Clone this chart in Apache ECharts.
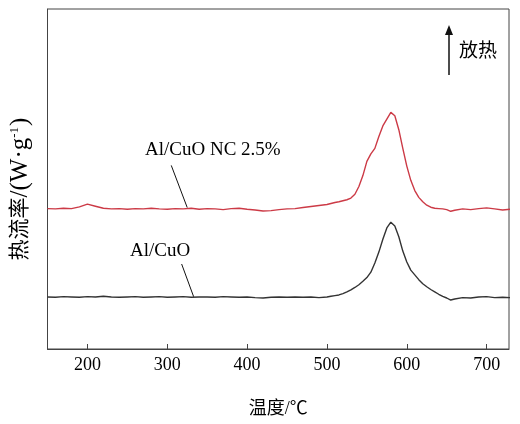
<!DOCTYPE html>
<html>
<head>
<meta charset="utf-8">
<script src="https://cdn.jsdelivr.net/npm/echarts@6/dist/echarts.min.js"></script>
<style>
    html, body { margin: 0; padding: 0; background: #fff; }
    #chart { width: 520px; height: 424px; }
</style>
</head>
<body>
<div id="chart"></div>
<script>
// temperature (°C) sample points
var temps = [150, 160, 170, 180, 190, 200, 210, 220, 230, 240, 250, 260, 270, 280, 290, 300,
    310, 320, 330, 340, 350, 360, 370, 380, 390, 400, 410, 420, 430, 440, 450, 460, 470, 480, 490,
    500, 505, 510, 515, 520, 525, 530, 535, 540, 545, 550, 555, 560, 565, 570, 575, 580, 585,
    590, 595, 600, 605, 610, 615, 620, 625, 630, 635, 640, 645, 650, 655, 660,
    670, 680, 690, 700, 710, 720, 730];

// heat flow, arbitrary units (curves are offset, no y scale shown)
var nc25 = [41.3, 41.2, 41.4, 41.3, 41.8, 42.6, 42.0, 41.4, 41.2, 41.3, 41.1, 41.3, 41.2, 41.4, 41.2, 41.1,
    41.3, 41.2, 41.4, 41.1, 41.3, 41.2, 41.0, 41.3, 41.4, 41.1, 40.9, 40.6, 40.7, 41.0, 41.2, 41.3, 41.6, 41.9, 42.2,
    42.5, 42.8, 43.1, 43.3, 43.6, 43.9, 44.4, 45.5, 47.8, 51.0, 55.2, 57.4, 59.0, 62.5, 65.6, 67.6, 69.6, 68.6,
    64.5, 59.0, 53.8, 49.6, 46.6, 44.6, 43.3, 42.3, 41.7, 41.4, 41.3, 41.2, 41.0, 40.5, 40.8,
    41.2, 41.0, 41.3, 41.5, 41.2, 40.9, 41.1];

var pure = [15.3, 15.2, 15.4, 15.3, 15.2, 15.4, 15.3, 15.5, 15.3, 15.2, 15.3, 15.4, 15.2, 15.3, 15.4, 15.2,
    15.3, 15.4, 15.2, 15.3, 15.3, 15.2, 15.4, 15.3, 15.2, 15.3, 15.1, 15.0, 15.2, 15.3, 15.2, 15.3, 15.2, 15.3, 15.1,
    15.3, 15.5, 15.7, 15.9, 16.3, 16.8, 17.4, 18.1, 18.9, 19.9, 21.0, 22.6, 25.3, 28.5, 32.3, 35.6, 37.3, 36.2,
    33.0, 28.8, 25.6, 23.2, 21.8, 20.4, 19.2, 18.3, 17.5, 16.8, 16.1, 15.5, 15.0, 14.4, 14.7,
    15.1, 15.0, 15.3, 15.4, 15.1, 15.2, 15.1];

var xTicks = [200, 300, 400, 500, 600, 700];

function pairs(ys) {
    return temps.map(function (t, i) { return [t, ys[i]]; });
}

var serif = "'Liberation Serif', 'Noto Sans CJK SC', serif";
var chart = echarts.init(document.getElementById('chart'));
chart.setOption({
    animation: false,
    grid: {
        left: 47,
        right: 11,
        top: 9,
        bottom: 75,
        show: true,
        borderColor: '#444',
        borderWidth: 1
    },
    xAxis: {
        type: 'value',
        min: 150,
        max: 728,
        name: '温度/℃',
        nameLocation: 'middle',
        nameGap: 51,
        nameTextStyle: { fontSize: 18, fontFamily: serif, color: '#000' },
        axisLine: { lineStyle: { color: '#444' } },
        axisTick: { inside: true, length: 5, customValues: xTicks, lineStyle: { color: '#444' } },
        axisLabel: { customValues: xTicks, fontSize: 18, fontFamily: serif, color: '#000', margin: 7 },
        splitLine: { show: false }
    },
    yAxis: {
        type: 'value',
        min: 0,
        max: 100,
        name: '{c|热流率}{a|/(W·g}{s|-1}{a|)}',
        nameLocation: 'middle',
        nameGap: 15,
        nameTextStyle: {
            fontFamily: serif,
            color: '#000',
            padding: [0, 20, 0, 0],
            rich: {
                c: { fontSize: 21, fontFamily: serif, color: '#000', lineHeight: 24 },
                a: { fontSize: 25, fontFamily: serif, color: '#000', lineHeight: 24 },
                s: { fontSize: 13, fontFamily: serif, color: '#000', lineHeight: 24, verticalAlign: 'top', padding: [0, 1, 9, 0] }
            }
        },
        axisLine: { lineStyle: { color: '#444' } },
        axisTick: { show: false },
        axisLabel: { show: false },
        splitLine: { show: false }
    },
    series: [
        {
            name: 'Al/CuO NC 2.5%',
            type: 'line',
            showSymbol: false,
            data: pairs(nc25),
            lineStyle: { color: '#cc3a46', width: 1.4 },
            markLine: {
                silent: true,
                symbol: 'none',
                label: { show: false },
                lineStyle: { color: '#111', width: 1, type: 'solid' },
                data: [[{ coord: [305, 54] }, { coord: [325, 41.6] }]]
            }
        },
        {
            name: 'Al/CuO',
            type: 'line',
            showSymbol: false,
            data: pairs(pure),
            lineStyle: { color: '#333', width: 1.4 },
            markLine: {
                silent: true,
                symbol: 'none',
                label: { show: false },
                lineStyle: { color: '#111', width: 1, type: 'solid' },
                data: [[{ coord: [318, 25] }, { coord: [333, 15.4] }]]
            }
        }
    ],
    graphic: [
        {
            type: 'text', left: 145, top: 141,
            style: { text: 'Al/CuO NC 2.5%', font: '19px ' + serif, fill: '#000' }
        },
        {
            type: 'text', left: 130, top: 242,
            style: { text: 'Al/CuO', font: '19px ' + serif, fill: '#000' }
        },
        {
            type: 'line',
            shape: { x1: 449, y1: 75, x2: 449, y2: 32 },
            style: { stroke: '#111', lineWidth: 1.5 }
        },
        {
            type: 'polygon',
            shape: { points: [[449, 25], [445, 35], [453, 35]] },
            style: { fill: '#111' }
        },
        {
            type: 'text', left: 459, top: 43,
            style: { text: '放热', font: '19px ' + serif, fill: '#000' }
        }
    ]
});
</script>
</body>
</html>
